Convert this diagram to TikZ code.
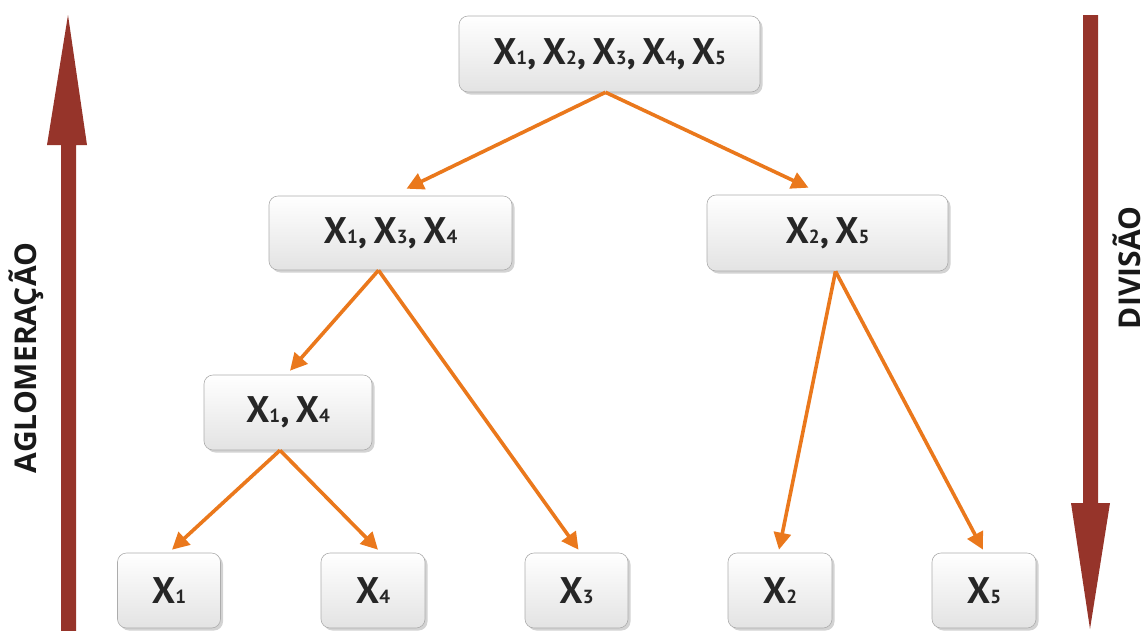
\documentclass[tikz,border=0pt]{standalone}
\usepackage{fontspec}
\setmainfont{Open Sans}
\newfontfamily\boxfont{PT Sans}
\usetikzlibrary{arrows.meta,shadows,calc}
\definecolor{brick}{RGB}{150,52,42}
\definecolor{orng}{RGB}{234,120,28}
\newcommand{\xs}[1]{X{\fontsize{19}{19}\selectfont #1}}
\tikzset{
  box/.style={draw=gray!65, line width=0.6pt, rounded corners=9pt,
    top color=white, bottom color=gray!22,
    drop shadow={shadow xshift=2.5pt, shadow yshift=-2.5pt, opacity=0.35},
    inner sep=0pt, font=\boxfont\fontsize{37}{39}\selectfont\bfseries, text=black!85},
  link/.style={draw=orng, line width=3.6pt, -{Triangle[length=17pt,width=17pt]}},
  biglabel/.style={font=\fontsize{30}{33}\selectfont\bfseries, rotate=90, text=black!90},
  bigarrow/.style={fill=brick, draw=none}
}
\begin{document}
\begin{tikzpicture}[x=1pt,y=-1pt]
\useasboundingbox (0,0) rectangle (1146,630);
% big arrows
\fill[bigarrow] (61,632) -- (61,145) -- (47,145) -- (68,15) -- (87,145) -- (76,145) -- (76,632) -- cycle;
\fill[bigarrow] (1083,15) -- (1083,503) -- (1071,503) -- (1090,629) -- (1110,503) -- (1098,503) -- (1098,15) -- cycle;
\node[biglabel] (agl) at (26,358) {AGLOMERAÇÃO};
\node[biglabel] (div) at (1127,268) {DIVISÃO};
% boxes
\node[box, minimum width=301pt, minimum height=76pt] (top) at (609.5,54) {\xs1,\,\xs2,\,\xs3,\,\xs4,\,\xs5};
\node[box, minimum width=243pt, minimum height=74pt] (m1) at (390.5,233) {\xs1,\,\xs3,\,\xs4};
\node[box, minimum width=241pt, minimum height=76pt] (m2) at (827.5,233) {\xs2,\,\xs5};
\node[box, minimum width=168pt, minimum height=75pt] (l1) at (288,412.5) {\xs1,\,\xs4};
\node[box, minimum width=103pt, minimum height=75pt] (b1) at (169,590.5) {\xs1};
\node[box, minimum width=104pt, minimum height=75pt] (b4) at (373,590.5) {\xs4};
\node[box, minimum width=103pt, minimum height=75pt] (b3) at (576.5,590.5) {\xs3};
\node[box, minimum width=104pt, minimum height=75pt] (b2) at (780,590.5) {\xs2};
\node[box, minimum width=104pt, minimum height=75pt] (b5) at (984,590.5) {\xs5};
% connectors
\draw[link] ([xshift=-4pt]top.south) -- ([xshift=16pt,yshift=7pt]m1.north);
\draw[link] ([xshift=-4pt]top.south) -- ([xshift=-19pt,yshift=7pt]m2.north);
\draw[link] ([xshift=-12pt]m1.south) -- ([xshift=2pt,yshift=4pt]l1.north);
\draw[link] ([xshift=-12pt]m1.south) -- ([xshift=2pt,yshift=3pt]b3.north);
\draw[link] ([xshift=8pt]m2.south) -- ([xshift=-1pt,yshift=3pt]b2.north);
\draw[link] ([xshift=8pt]m2.south) -- ([xshift=-1pt,yshift=3pt]b5.north);
\draw[link] ([xshift=-8pt]l1.south) -- ([xshift=3pt,yshift=3pt]b1.north);
\draw[link] ([xshift=-8pt]l1.south) -- ([xshift=5pt,yshift=3pt]b4.north);
\end{tikzpicture}
\end{document}
